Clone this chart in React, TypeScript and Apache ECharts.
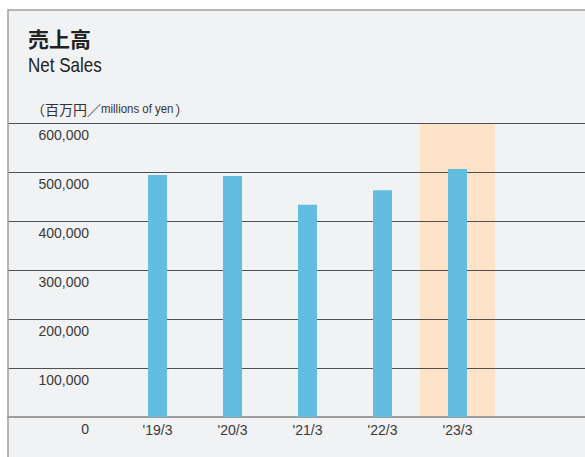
import React, { useEffect, useRef } from "react";
import * as echarts from "echarts";

const categories = ["'19/3", "'20/3", "'21/3", "'22/3", "'23/3"];
const netSales = [494000, 492000, 433000, 463000, 506000];
const highlightIndex = 4;
const yMin = 0;
const yMax = 600000;
const yInterval = 100000;
const titleJa = "売上高";
const titleEn = "Net Sales";
const unitJa = "（百万円／";
const unitEn = "millions of yen";
const unitEnd = "）";

export default function App() {
  const ref = useRef<HTMLDivElement>(null);
  useEffect(() => {
    const chart = echarts.init(ref.current!, null, { renderer: "svg" });
    const latin = "'Liberation Sans', Arial, sans-serif";
    const cjk = "'Noto Sans CJK JP', sans-serif";
    const band = categories.map((_, i) => (i === highlightIndex ? yMax : "-"));
    chart.setOption({
      animation: false,
      backgroundColor: "#ffffff",
      graphic: [
        {
          type: "rect",
          z: -10,
          silent: true,
          shape: { x: 8, y: 10, width: 577, height: 447 },
          style: { fill: "#f1f2f4" },
        },
        {
          type: "polyline",
          z: 10,
          silent: true,
          shape: { points: [[8, 457], [8, 10], [585, 10]] },
          style: { stroke: "#a0a0a0", lineWidth: 1.5, fill: null },
        },
        {
          type: "text",
          x: 28,
          y: 38,
          style: {
            text: titleJa,
            font: `bold 21px ${cjk}`,
            fill: "#222222",
            verticalAlign: "middle",
          },
        },
        {
          type: "text",
          x: 28,
          y: 65,
          scaleX: 0.85,
          style: {
            text: titleEn,
            font: `20px ${latin}`,
            fill: "#222222",
            verticalAlign: "middle",
          },
        },
        {
          type: "text",
          x: 31,
          y: 109,
          style: {
            text: unitJa,
            font: `14px ${cjk}`,
            fill: "#333333",
            verticalAlign: "middle",
          },
        },
        {
          type: "text",
          x: 101,
          y: 109,
          scaleX: 0.88,
          style: {
            text: unitEn,
            font: `13px ${latin}`,
            fill: "#333333",
            verticalAlign: "middle",
          },
        },
        {
          type: "text",
          x: 175,
          y: 109,
          style: {
            text: unitEnd,
            font: `14px ${cjk}`,
            fill: "#333333",
            verticalAlign: "middle",
          },
        },
      ],
      grid: [
        { left: 8, right: 0, top: 123, bottom: 40 },
        { left: 120, width: 375, top: 123, bottom: 40 },
      ],
      xAxis: [
        {
          gridIndex: 0,
          type: "value",
          min: 0,
          max: 1,
          axisLine: { show: true, lineStyle: { color: "#9d9d9d", width: 2 } },
          axisTick: { show: false },
          axisLabel: { show: false },
          splitLine: { show: false },
        },
        {
          gridIndex: 1,
          type: "category",
          data: categories,
          axisLine: { show: false },
          axisTick: { show: false },
          axisLabel: { fontSize: 14, color: "#3a3a3a", margin: 6, fontFamily: latin },
        },
        {
          gridIndex: 1,
          type: "category",
          data: categories,
          show: false,
        },
      ],
      yAxis: [
        {
          gridIndex: 0,
          type: "value",
          min: yMin,
          max: yMax,
          interval: yInterval,
          axisLabel: { show: false },
          axisLine: { show: false },
          axisTick: { show: false },
          splitLine: { lineStyle: { color: "#505050", width: 1 } },
        },
        {
          gridIndex: 1,
          type: "value",
          min: yMin,
          max: yMax,
          interval: yInterval,
          axisLine: { show: false },
          axisTick: { show: false },
          splitLine: { show: false },
          axisLabel: {
            formatter: (v: number) => v.toLocaleString("en-US"),
            fontSize: 14,
            color: "#3a3a3a",
            margin: 31,
            verticalAlign: "top",
            lineHeight: 24,
            fontFamily: latin,
          },
        },
      ],
      series: [
        {
          type: "bar",
          xAxisIndex: 2,
          yAxisIndex: 1,
          data: band,
          barWidth: "100%",
          itemStyle: { color: "#fde4c9" },
          z: -1,
          silent: true,
        },
        {
          type: "bar",
          xAxisIndex: 1,
          yAxisIndex: 1,
          data: netSales,
          barWidth: 19,
          itemStyle: { color: "#62bde0" },
          z: 3,
        },
      ],
    });
    return () => chart.dispose();
  }, []);
  return (
    <div
      ref={ref}
      style={{ position: "fixed", left: 0, top: 0, width: 585, height: 457 }}
    />
  );
}
